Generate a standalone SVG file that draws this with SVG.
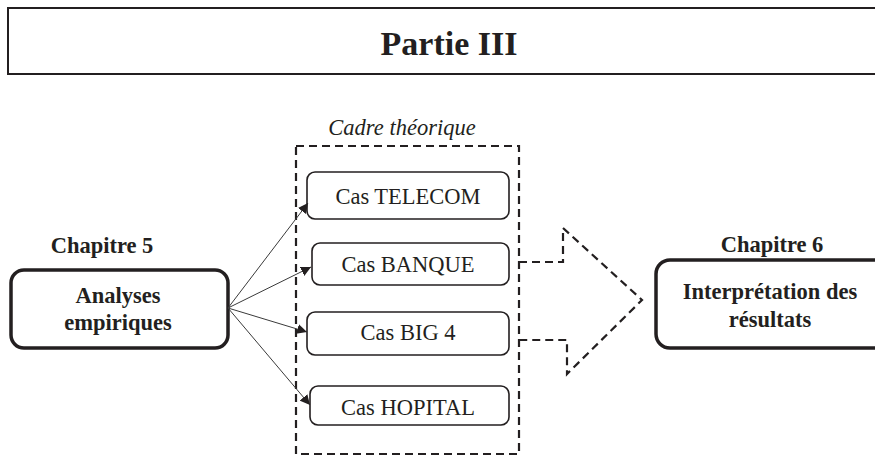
<svg xmlns="http://www.w3.org/2000/svg" width="875" height="457" viewBox="0 0 875 457">
  <style>
    .bold { font-family: "Liberation Serif", "Times New Roman", serif; font-weight: bold; font-size: 22.5px; fill: #231f20; text-anchor: middle; }
    .reg { font-family: "Liberation Serif", "Times New Roman", serif; font-size: 22.5px; fill: #231f20; text-anchor: middle; }
    .ital { font-family: "Liberation Serif", "Times New Roman", serif; font-style: italic; font-size: 22.5px; fill: #231f20; text-anchor: middle; }
    .case { fill: #ffffff; stroke: #231f20; stroke-width: 1.6; }
    .main { fill: #ffffff; stroke: #231f20; stroke-width: 3.5; }
    .dash { fill: none; stroke: #231f20; stroke-width: 2.2; stroke-dasharray: 8 5; }
    .conn { fill: none; stroke: #3a3a3a; stroke-width: 1; }
  </style>
  <defs>
    <marker id="ah" viewBox="0 0 10 10" refX="10" refY="5" markerWidth="10" markerHeight="10" markerUnits="userSpaceOnUse" orient="auto">
      <path d="M0,0 L10,5 L0,10 z" fill="#231f20"/>
    </marker>
  </defs>
  <rect width="875" height="457" fill="#ffffff"/>

  <g id="title">
    <rect x="8" y="8" width="880" height="66" fill="#ffffff" stroke="#231f20" stroke-width="2"/>
    <text x="449" y="55" class="bold" style="font-size:34px">Partie III</text>
  </g>

  <g id="cadre">
    <rect x="296" y="146" width="223" height="308" class="dash"/>
    <text x="402" y="135" class="ital">Cadre théorique</text>
  </g>

  <g id="chapitre5">
    <text x="102" y="253" class="bold">Chapitre 5</text>
    <rect x="11" y="270" width="217" height="78" rx="13" class="main"/>
    <text x="118" y="303" class="bold">Analyses</text>
    <text x="118" y="330" class="bold">empiriques</text>
  </g>

  <g id="telecom">
    <rect x="307" y="172" width="202" height="47" rx="8" class="case"/>
    <text x="408" y="204" class="reg">Cas TELECOM</text>
  </g>
  <g id="banque">
    <rect x="312" y="243" width="197" height="42" rx="8" class="case"/>
    <text x="408" y="272" class="reg">Cas BANQUE</text>
  </g>
  <g id="big4">
    <rect x="307" y="312" width="202" height="43" rx="8" class="case"/>
    <text x="408" y="340" class="reg">Cas BIG 4</text>
  </g>
  <g id="hopital">
    <rect x="310" y="386" width="199" height="39" rx="8" class="case"/>
    <text x="408" y="415" class="reg">Cas HOPITAL</text>
  </g>

  <g id="chapitre6">
    <text x="772" y="252" class="bold">Chapitre 6</text>
    <rect x="656" y="260" width="240" height="88" rx="14" class="main"/>
    <text x="770" y="299" class="bold">Interprétation des</text>
    <text x="770" y="327" class="bold">résultats</text>
  </g>

  <g id="connectors">
    <line x1="228" y1="308" x2="308" y2="203" class="conn" marker-end="url(#ah)"/>
    <line x1="228" y1="308" x2="311" y2="267" class="conn" marker-end="url(#ah)"/>
    <line x1="228" y1="308" x2="307" y2="332" class="conn" marker-end="url(#ah)"/>
    <line x1="228" y1="308" x2="310" y2="405" class="conn" marker-end="url(#ah)"/>
    <path d="M519,262 L563,262 L563,228 L642,300 L567,374 L567,340 L519,340" class="dash"/>
  </g>
</svg>
